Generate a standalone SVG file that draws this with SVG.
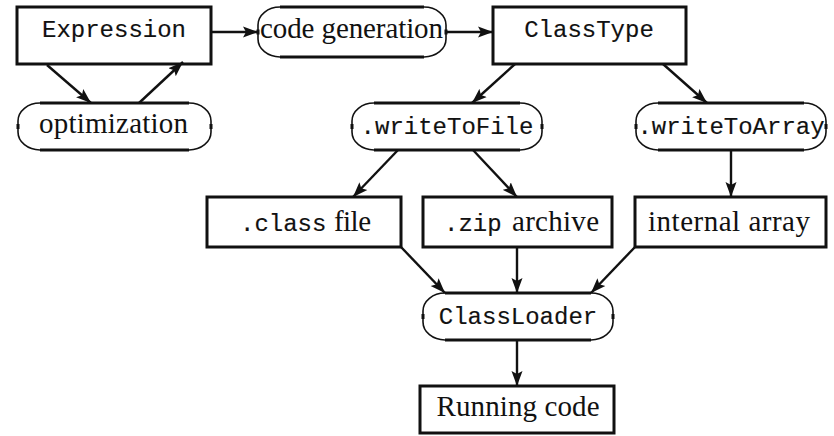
<svg xmlns="http://www.w3.org/2000/svg" width="834" height="436" viewBox="0 0 834 436">
  <style>
    .box { fill: #fff; stroke: #111; stroke-width: 3; }
    .cap { fill: none; stroke: #111; stroke-width: 1.6; }
    .edge { fill: none; stroke: #111; stroke-width: 3; }
    .tick { fill: none; stroke: #111; stroke-width: 3; }
    .tt { font-family: "Liberation Mono", "DejaVu Sans Mono", monospace; font-size: 24px; fill: #111; stroke: #111; stroke-width: 0.15; }
    .rm { font-family: "Liberation Serif", "DejaVu Serif", serif; font-size: 29px; fill: #111; }
    .link { fill: none; stroke: #111; stroke-width: 2.4; }
  </style>
  <defs>
    <marker id="head" markerUnits="userSpaceOnUse" markerWidth="16" markerHeight="12" refX="15" refY="6" orient="auto">
      <path d="M0,0.5 L15,6 L0,11.5 L3,6 Z" fill="#111"/>
    </marker>
  </defs>

  <!-- rectangular nodes -->
  <g id="expression">
    <rect class="box" x="17" y="7" width="194" height="57"/>
    <text class="tt" x="114" y="37" text-anchor="middle">Expression</text>
  </g>
  <g id="classtype">
    <rect class="box" x="493" y="7" width="193" height="57"/>
    <text class="tt" x="589" y="37" text-anchor="middle">ClassType</text>
  </g>
  <g id="classfile">
    <rect class="box" x="207" y="197" width="194" height="50"/>
    <text y="231"><tspan class="tt" x="240">.class</tspan><tspan class="rm" x="334" textLength="37">file</tspan></text>
  </g>
  <g id="ziparchive">
    <rect class="box" x="423" y="197" width="189" height="50"/>
    <text y="231"><tspan class="tt" x="444">.zip</tspan><tspan class="rm" x="512" textLength="87">archive</tspan></text>
  </g>
  <g id="internalarray">
    <rect class="box" x="635" y="197" width="191" height="50"/>
    <text class="rm" x="729" y="231" text-anchor="middle" textLength="162">internal array</text>
  </g>
  <g id="runningcode">
    <rect class="box" x="420" y="386" width="194" height="47"/>
    <text class="rm" x="518" y="416" text-anchor="middle" textLength="163">Running code</text>
  </g>

  <!-- rounded (stadium) nodes: thick top/bottom, thin end caps -->
  <g id="codegeneration">
    <rect x="258" y="7" width="188" height="50" rx="20" fill="#fff"/>
    <path class="cap" d="M280,7 A22,18 0 0 0 258,25 V39 A22,18 0 0 0 280,57 M424,7 A22,18 0 0 1 446,25 V39 A22,18 0 0 1 424,57"/>
    <path class="edge" d="M280,7 H424 M280,57 H424"/>
    <path class="tick" d="M258,29.5 V34.5 M446,29.5 V34.5"/>
    <text class="rm" x="351.5" y="38" text-anchor="middle" textLength="183">code generation</text>
  </g>
  <g id="optimization">
    <rect x="18" y="103" width="193" height="47" rx="20" fill="#fff"/>
    <path class="cap" d="M40,103 A22,18 0 0 0 18,121 V132 A22,18 0 0 0 40,150 M189,103 A22,18 0 0 1 211,121 V132 A22,18 0 0 1 189,150"/>
    <path class="edge" d="M40,103 H189 M40,150 H189"/>
    <path class="tick" d="M18,124 V129 M211,124 V129"/>
    <text class="rm" x="113.5" y="133" text-anchor="middle" textLength="149">optimization</text>
  </g>
  <g id="writetofile">
    <rect x="352" y="103" width="190" height="47" rx="20" fill="#fff"/>
    <path class="cap" d="M374,103 A22,18 0 0 0 352,121 V132 A22,18 0 0 0 374,150 M520,103 A22,18 0 0 1 542,121 V132 A22,18 0 0 1 520,150"/>
    <path class="edge" d="M374,103 H520 M374,150 H520"/>
    <path class="tick" d="M352,124 V129 M542,124 V129"/>
    <text class="tt" x="447" y="134" text-anchor="middle">.writeToFile</text>
  </g>
  <g id="writetoarray">
    <rect x="636" y="103" width="190" height="47" rx="20" fill="#fff"/>
    <path class="cap" d="M658,103 A22,18 0 0 0 636,121 V132 A22,18 0 0 0 658,150 M804,103 A22,18 0 0 1 826,121 V132 A22,18 0 0 1 804,150"/>
    <path class="edge" d="M658,103 H804 M658,150 H804"/>
    <path class="tick" d="M636,124 V129 M826,124 V129"/>
    <text class="tt" x="731" y="134" text-anchor="middle">.writeToArray</text>
  </g>
  <g id="classloader">
    <rect x="423" y="293" width="190" height="47" rx="20" fill="#fff"/>
    <path class="cap" d="M445,293 A22,18 0 0 0 423,311 V322 A22,18 0 0 0 445,340 M591,293 A22,18 0 0 1 613,311 V322 A22,18 0 0 1 591,340"/>
    <path class="edge" d="M445,293 H591 M445,340 H591"/>
    <path class="tick" d="M423,314 V319 M613,314 V319"/>
    <text class="tt" x="518" y="324" text-anchor="middle">ClassLoader</text>
  </g>

  <!-- connectors -->
  <g id="connectors">
    <path class="link" marker-end="url(#head)" d="M212,32 L258,32"/>
    <path class="link" marker-end="url(#head)" d="M446,32 L493,32"/>
    <path class="link" marker-end="url(#head)" d="M47,65 L91,103"/>
    <path class="link" marker-end="url(#head)" d="M139,103 L183,62"/>
    <path class="link" marker-end="url(#head)" d="M515,64 L472,103"/>
    <path class="link" marker-end="url(#head)" d="M663,64 L707,103"/>
    <path class="link" marker-end="url(#head)" d="M398,150 L353,197"/>
    <path class="link" marker-end="url(#head)" d="M473,150 L517,197"/>
    <path class="link" marker-end="url(#head)" d="M731,150 L731,197"/>
    <path class="link" marker-end="url(#head)" d="M401,247 L445,293"/>
    <path class="link" marker-end="url(#head)" d="M517,247 L517,293"/>
    <path class="link" marker-end="url(#head)" d="M635,247 L591,293"/>
    <path class="link" marker-end="url(#head)" d="M517,340 L517,386"/>
  </g>
</svg>
